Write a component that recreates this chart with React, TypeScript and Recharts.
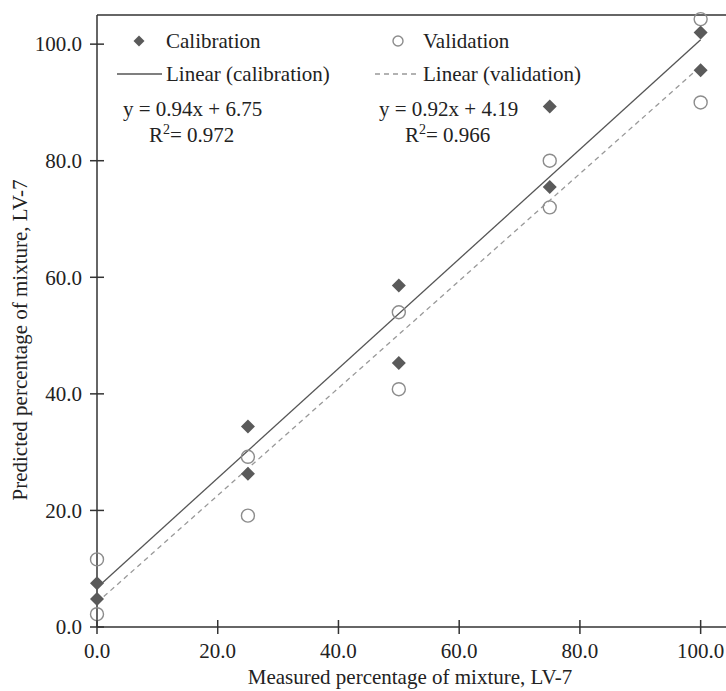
import { ScatterChart, Scatter, XAxis, YAxis, ReferenceLine } from 'recharts'

const measured = [0, 0, 25, 25, 50, 50, 75, 75, 100, 100]
const calibrationPredicted = [7.5, 4.8, 34.4, 26.3, 58.6, 45.3, 89.3, 75.5, 102.0, 95.5]
const validationPredicted = [11.6, 2.2, 29.2, 19.1, 54.0, 40.8, 80.0, 72.0, 104.3, 90.0]
const axisTicks = [0, 20, 40, 60, 80, 100]

const calibrationFit = [{ x: 0, y: 6.75 }, { x: 100, y: 100.75 }]
const validationFit = [{ x: 0, y: 4.19 }, { x: 100, y: 96.19 }]

const calibration = measured.map((x, i) => ({ x, y: calibrationPredicted[i] }))
const validation = measured.map((x, i) => ({ x, y: validationPredicted[i] }))

const FONT = '"Liberation Serif", "DejaVu Serif", serif'
const AXIS = '#333'
const DARK = '#5a5a5a'
const LIGHT = '#8c8c8c'

const Diamond = ({ cx, cy, s = 7 }: any) => (
  <polygon points={`${cx},${cy - s} ${cx + s},${cy} ${cx},${cy + s} ${cx - s},${cy}`} fill={DARK} />
)

const Ring = ({ cx, cy, r = 6.5 }: any) => (
  <circle cx={cx} cy={cy} r={r} fill="none" stroke={LIGHT} strokeWidth={1.4} />
)

const XTick = ({ x, y, payload }: any) => (
  <g>
    <line x1={x} x2={x} y1={y - 7} y2={y + 7} stroke={AXIS} strokeWidth={1.5} />
    <text x={x} y={y + 24} dy="0.35em" textAnchor="middle" fontFamily={FONT} fontSize={21} fill="#222">
      {Number(payload.value).toFixed(1)}
    </text>
  </g>
)

const YTick = ({ x, y, payload }: any) => (
  <g>
    <line x1={x - 7} x2={x + 7} y1={y} y2={y} stroke={AXIS} strokeWidth={1.5} />
    <text x={x - 15} y={y} dy="0.35em" textAnchor="end" fontFamily={FONT} fontSize={21} fill="#222">
      {Number(payload.value).toFixed(1)}
    </text>
  </g>
)

export default function App() {
  const txt = { fontFamily: FONT, fontSize: 21, fill: '#222' }
  return (
    <div style={{ position: 'absolute', left: 0, top: 0, width: 726, height: 691, background: '#fff' }}>
      <ScatterChart width={726} height={691} margin={{ top: 15, right: 0, bottom: 0, left: 0 }}>
        <XAxis
          type="number"
          dataKey="x"
          domain={[0, 104.2]}
          ticks={axisTicks}
          interval={0}
          height={64}
          tickSize={0}
          tickMargin={0}
          tickLine={false}
          axisLine={{ stroke: AXIS, strokeWidth: 1.5 }}
          tick={<XTick />}
        />
        <YAxis
          type="number"
          dataKey="y"
          domain={[0, 105]}
          ticks={axisTicks}
          interval={0}
          width={97}
          tickSize={0}
          tickMargin={0}
          tickLine={false}
          axisLine={{ stroke: AXIS, strokeWidth: 1.5 }}
          tick={<YTick />}
        />
        <ReferenceLine y={105} stroke={AXIS} strokeWidth={1.5} />
        <ReferenceLine segment={calibrationFit} stroke="#555" strokeWidth={1.3} />
        <ReferenceLine segment={validationFit} stroke="#999" strokeWidth={1.3} strokeDasharray="5 4" />
        <Scatter name="Calibration" data={calibration} shape={<Diamond />} isAnimationActive={false} />
        <Scatter name="Validation" data={validation} shape={<Ring />} isAnimationActive={false} />
      </ScatterChart>
      <svg width={726} height={691} style={{ position: 'absolute', left: 0, top: 0, pointerEvents: 'none' }}>
        {/* legend */}
        <Diamond cx={139} cy={41} s={5.5} />
        <text x={166} y={41} dy="0.35em" {...txt}>Calibration</text>
        <Ring cx={398} cy={41} r={5} />
        <text x={423} y={41} dy="0.35em" {...txt}>Validation</text>
        <line x1={117} x2={162} y1={74} y2={74} stroke="#555" strokeWidth={1.3} />
        <text x={166} y={74} dy="0.35em" {...txt}>Linear (calibration)</text>
        <line x1={375} x2={419} y1={74} y2={74} stroke="#999" strokeWidth={1.3} strokeDasharray="5 4" />
        <text x={423} y={74} dy="0.35em" {...txt}>Linear (validation)</text>
        <text x={123} y={109} dy="0.35em" {...txt}>y = 0.94x + 6.75</text>
        <text x={149} y={135} dy="0.35em" {...txt}>
          R<tspan dy="-8" fontSize={14}>2</tspan>
          <tspan dy="8">= 0.972</tspan>
        </text>
        <text x={379} y={109} dy="0.35em" {...txt}>y = 0.92x + 4.19</text>
        <text x={405} y={135} dy="0.35em" {...txt}>
          R<tspan dy="-8" fontSize={14}>2</tspan>
          <tspan dy="8">= 0.966</tspan>
        </text>
        {/* axis titles */}
        <text x={410} y={677} dy="0.35em" textAnchor="middle" {...txt}>
          Measured percentage of mixture, LV-7
        </text>
        <text
          x={20}
          y={340}
          dy="0.35em"
          textAnchor="middle"
          transform="rotate(-90 20 340)"
          {...txt}
        >
          Predicted percentage of mixture, LV-7
        </text>
      </svg>
    </div>
  )
}
